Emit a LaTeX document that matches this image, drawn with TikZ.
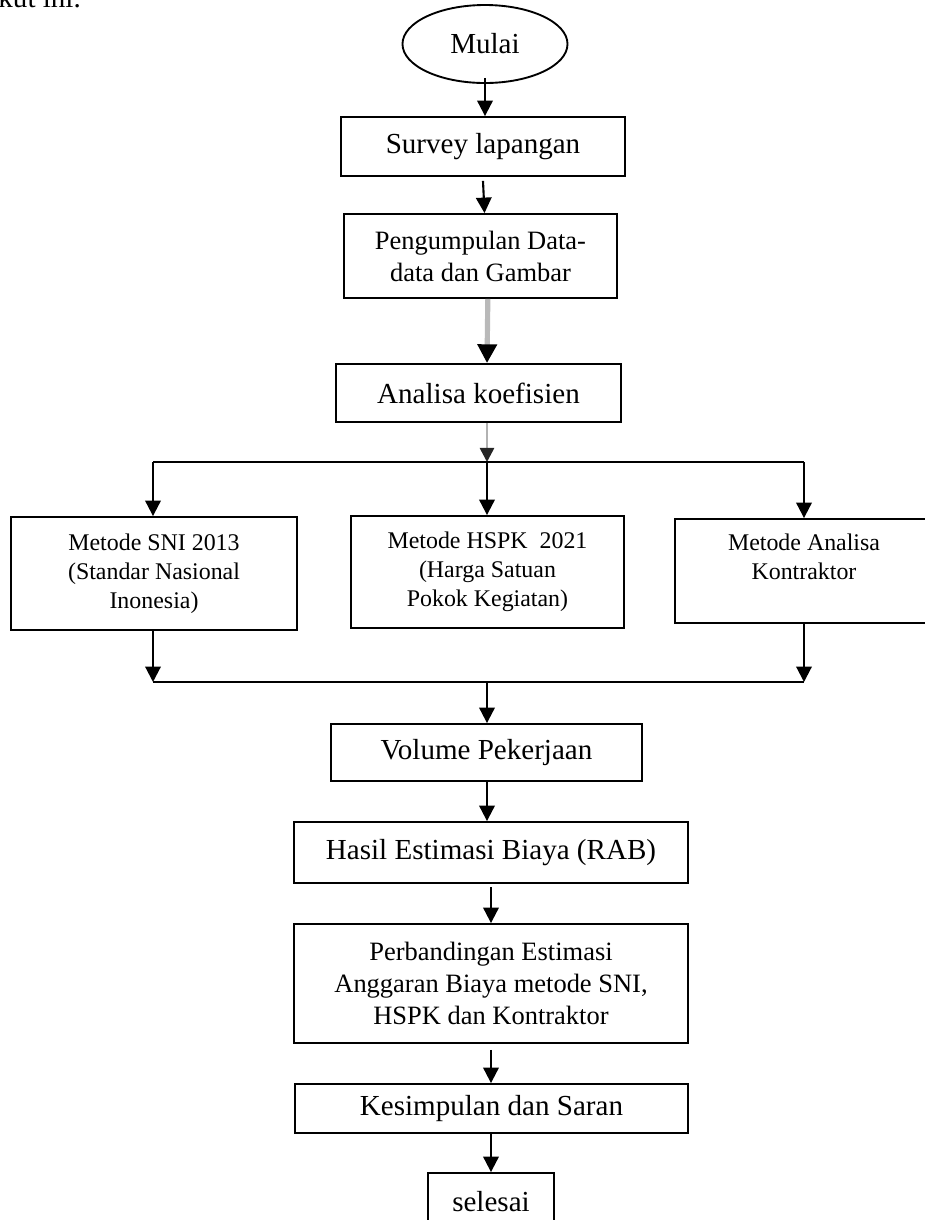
\documentclass[tikz,border=0pt]{standalone}
\usepackage{fontspec}
\setmainfont{Liberation Serif}
\usetikzlibrary{arrows.meta,positioning,calc,shapes.geometric}
\tikzset{
  kotak/.style={rectangle, draw=black, line width=0.8pt, align=center, inner sep=2pt,
                font=\fontsize{12.4}{15}\selectfont},
  kotakdua/.style={kotak, font=\fontsize{11.3}{13.7}\selectfont},
  metode/.style={kotak, font=\fontsize{10.2}{12.4}\selectfont},
  arr/.style={-{Triangle[length=6.6pt,width=6.6pt]}, line width=0.9pt, draw=black},
  arrabu/.style={-{Triangle[length=8pt,width=8pt,color=black]}, line width=2.2pt, draw=gray!55},
  arrtipis/.style={-{Triangle[length=6pt,width=6pt,color=black!85]}, line width=1.1pt, draw=gray!60},
  garis/.style={line width=0.9pt, draw=black},
}

\begin{document}
\begin{tikzpicture}[x=0.015cm, y=-0.015cm]
    \useasboundingbox (0,0) rectangle (925,1220);
    \clip (0,0) rectangle (925,1220);
    % sisa teks halaman
    \node[anchor=base west, inner sep=0, font=\fontsize{12.4}{15}\selectfont] (t0) at (-2,7) {kut ini.};
    \node[ellipse, draw=black, line width=0.8pt, inner sep=0, minimum width=2.475cm,
          minimum height=1.17cm, font=\fontsize{12.4}{15}\selectfont] (k1) at (485,44) {Mulai};
    \node[kotak, minimum width=4.26cm, minimum height=0.885cm] (k2) at (483,146.5) {Survey lapangan};
    \node[kotakdua, minimum width=4.095cm, minimum height=1.26cm] (k3) at (480.5,256)
      {Pengumpulan Data-\\data dan Gambar};
    \node[kotak, minimum width=4.275cm, minimum height=0.87cm] (k4) at (478.5,393) {Analisa koefisien};
    % tiga metode
    \node[metode, minimum width=4.29cm, minimum height=1.695cm] (k5) at (154,573.5)
      {Metode SNI 2013\\(Standar Nasional\\Inonesia)};
    \node[metode, minimum width=4.095cm, minimum height=1.68cm] (k6) at (487.5,572)
      {Metode HSPK\ \ 2021\\(Harga Satuan\\Pokok Kegiatan)};
    \node[metode, minimum width=3.87cm, minimum height=1.56cm] (k7) at (804,571)
      {Metode Analisa\\Kontraktor\\\mbox{}};
    \node[kotak, minimum width=4.665cm, minimum height=0.855cm] (k8) at (486.5,752.5) {Volume Pekerjaan};
    \node[kotak, minimum width=5.91cm, minimum height=0.915cm] (k9) at (491,852.5)
      {Hasil Estimasi Biaya (RAB)};
    \node[kotakdua, minimum width=5.91cm, minimum height=1.785cm] (k10) at (491,983.5)
      {Perbandingan Estimasi\\Anggaran Biaya metode SNI,\\HSPK dan Kontraktor};
    \node[kotak, minimum width=5.895cm, minimum height=0.735cm] (k11) at (491.5,1108.5)
      {Kesimpulan dan Saran};
    \node[kotak, minimum width=1.89cm, minimum height=0.87cm] (k12) at (491,1202) {selesai};
    % titik cabang
    \coordinate (bL) at (153,462);
    \coordinate (bC) at (487,462);
    \coordinate (bR) at (804,462);
    \coordinate (gL) at (153,682);
    \coordinate (gC) at (487,682);
    \coordinate (gR) at (804,682);
    % panah
    \draw[arr] ([yshift=0.09cm]k1.south) -- (k2.north -| k1.south);
    \draw[arr] ([yshift=-0.06cm]k2.south) -- ([xshift=0.06cm]k3.north);
    \draw[arrabu] ([xshift=0.11cm]k3.south) -- (k4.north -| bC);
    \draw[arrtipis] (k4.south -| bC) -- (bC);
    \draw[garis] (bL) -- (bR);
    \draw[arr] (bL) -- (bL |- k5.north);
    \draw[arr] (bC) -- (bC |- k6.north);
    \draw[arr] (bR) -- (bR |- k7.north);
    \draw[arr] (k5.south -| bL) -- (gL);
    \draw[arr] (k7.south -| bR) -- (gR);
    \draw[garis] (gL) -- (gR);
    \draw[arr] (gC) -- (k8.north -| gC);
    \draw[arr] (k8.south -| gC) -- (k9.north -| gC);
    \draw[arr] ([yshift=-0.05cm]k9.south) -- (k10.north);
    \draw[arr] ([yshift=-0.09cm]k10.south) -- (k11.north -| k10.south);
    \draw[arr] (k11.south -| k12.north) -- (k12.north);
\end{tikzpicture}
\end{document}
